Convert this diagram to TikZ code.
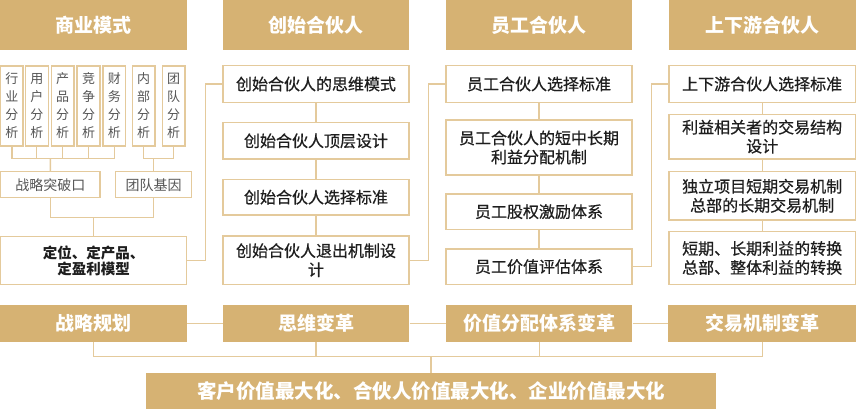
\documentclass[tikz,border=0pt]{standalone}
\usepackage{fontspec}
\setmainfont{Noto Sans CJK SC}
\newfontfamily\medfont[FakeBold=0.6]{Noto Sans CJK SC}
\definecolor{gold}{HTML}{D6B273}
\definecolor{edge}{HTML}{E4CA9C}
\definecolor{txt}{HTML}{1E1E1E}
\definecolor{gtxt}{HTML}{555555}
\tikzset{
  hdr/.style={fill=gold, text=white, font=\fontsize{19}{21}\selectfont\bfseries, inner sep=0pt},
  cbox/.style={draw=edge, line width=1.3pt, fill=white, text=txt, align=center, inner sep=0pt, font=\fontsize{16}{19}\selectfont\medfont},
  vbox/.style={cbox, text=gtxt, font=\fontsize{13}{18}\selectfont},
  gbox/.style={cbox, text=gtxt, font=\fontsize{14}{16}\selectfont},
  pbox/.style={cbox, font=\fontsize{14.5}{16}\selectfont\bfseries},
  fbox/.style={hdr, font=\fontsize{19.5}{21}\selectfont\bfseries},
  ln/.style={draw=edge, line width=1.3pt},
}
\newcommand\bx[7]{\node[#1, minimum width={#5-#3}, minimum height={#6-#4}] (#2) at ({(#3+#5)/2},{(#4+#6)/2}) {#7};}
\begin{document}
\begin{tikzpicture}[x=1pt,y=-1pt]
\useasboundingbox (0,0) rectangle (856,409);
% headers
\bx{hdr}{h1}{0}{0}{186.5}{50}{商业模式}
\bx{hdr}{h2}{223}{0}{409}{50}{创始合伙人}
\bx{hdr}{h3}{446}{0}{632}{50}{员工合伙人}
\bx{hdr}{h4}{669}{0}{856}{50}{上下游合伙人}
% small analysis boxes
\bx{vbox}{a1}{0.7}{66}{23}{146}{行\\业\\分\\析}
\bx{vbox}{a2}{25.3}{66}{48.3}{146}{用\\户\\分\\析}
\bx{vbox}{a3}{51.3}{66}{74}{146}{产\\品\\分\\析}
\bx{vbox}{a4}{77}{66}{100}{146}{竞\\争\\分\\析}
\bx{vbox}{a5}{103}{66}{125.7}{146}{财\\务\\分\\析}
\bx{vbox}{a6}{132.3}{66}{155}{146}{内\\部\\分\\析}
\bx{vbox}{a7}{162.3}{66}{185}{146}{团\\队\\分\\析}
\bx{gbox}{s1}{0.7}{171.7}{100}{197.7}{战略突破口}
\bx{gbox}{s2}{115.7}{171.7}{191.7}{197.7}{团队基因}
\bx{pbox}{p}{0.7}{236.7}{186.7}{284.3}{定位、定产品、\\定盈利模型}
\coordinate (b1) at (50.35,158.3);
\coordinate (b2) at (153.7,158.3);
\coordinate (b3) at (93.7,217.3);
\foreach \n in {a1,a2,a3,a4,a5} {\draw[ln] (\n.south) |- (b1);}
\foreach \n in {a6,a7} {\draw[ln] (\n.south) |- (b2);}
\draw[ln] (b1) -- (s1.north);
\draw[ln] (b2) -- (s2.north);
\draw[ln] (s1.south) |- (b3);
\draw[ln] (s2.south) |- (b3);
\draw[ln] (b3) -- (p.north);
% column 2
\bx{cbox}{c1}{223}{65.7}{409}{102.3}{创始合伙人的思维模式}
\bx{cbox}{c2}{223}{122.7}{409}{159}{创始合伙人顶层设计}
\bx{cbox}{c3}{223}{179.3}{409}{215}{创始合伙人选择标准}
\bx{cbox}{c4}{223}{236}{409}{284.3}{创始合伙人退出机制设\\计}
\draw[ln] (c1.south) -- (c2.north);
\draw[ln] (c2.south) -- (c3.north);
\draw[ln] (c3.south) -- (c4.north);
% column 3
\bx{cbox}{e1}{446}{65.7}{632}{102.3}{员工合伙人选择标准}
\bx{cbox}{e2}{446}{120}{632}{175}{员工合伙人的短中长期\\利益分配机制}
\bx{cbox}{e3}{446}{194}{632}{229.3}{员工股权激励体系}
\bx{cbox}{e4}{446}{249}{632}{284.3}{员工价值评估体系}
\draw[ln] (e1.south) -- (e2.north);
\draw[ln] (e2.south) -- (e3.north);
\draw[ln] (e3.south) -- (e4.north);
% column 4
\bx{cbox}{u1}{669}{65.7}{855.3}{102.3}{上下游合伙人选择标准}
\bx{cbox}{u2}{669}{114.3}{855.3}{159}{利益相关者的交易结构\\设计}
\bx{cbox}{u3}{669}{171.7}{855.3}{220}{独立项目短期交易机制\\总部的长期交易机制}
\bx{cbox}{u4}{669}{231.7}{855.3}{284.3}{短期、长期利益的转换\\总部、整体利益的转换}
\draw[ln] (u1.south) -- (u2.north);
\draw[ln] (u2.south) -- (u3.north);
\draw[ln] (u3.south) -- (u4.north);
% cross links
\draw[ln] (p.east) -- ++(18.3,0) |- (c1.west);
\draw[ln] (c4.east) -- ++(18.5,0) |- (e1.west);
\draw[ln] (e4.east) -- ++(18.5,0) |- (u1.west);
% bottom row
\bx{hdr}{r1}{0}{305}{186.7}{341.7}{战略规划}
\bx{hdr}{r2}{222.7}{305}{409.3}{341.7}{思维变革}
\bx{hdr}{r3}{446}{305}{632.3}{341.7}{价值分配体系变革}
\bx{hdr}{r4}{668.3}{305}{856}{341.7}{交易机制变革}
\draw[ln] (r1.east) -- (r2.west);
\draw[ln] (r2.east) -- (r3.west);
\draw[ln] (r3.east) -- (r4.west);
\bx{fbox}{f}{146}{372.7}{716}{409}{客户价值最大化、合伙人价值最大化、企业价值最大化}
\coordinate (fb) at (431,356.7);
\foreach \n in {r1,r2,r3,r4} {\draw[ln] (\n.south) |- (fb);}
\draw[ln] (fb) -- (f.north);
\end{tikzpicture}
\end{document}
